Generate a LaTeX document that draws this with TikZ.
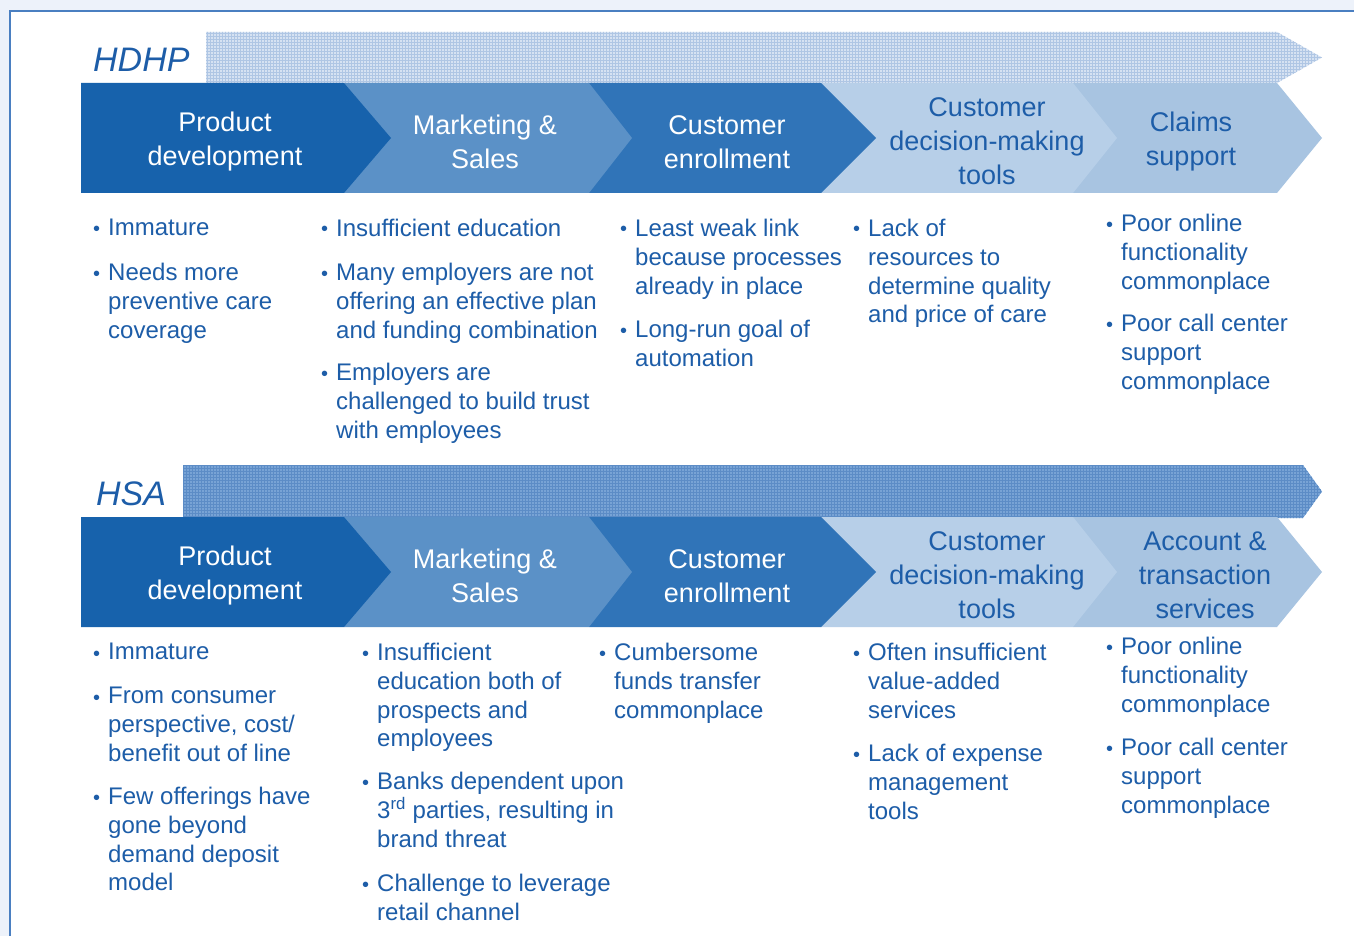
\documentclass[tikz,border=0pt]{standalone}
\usepackage{fontspec}
\setmainfont{Liberation Sans}
\usetikzlibrary{patterns}

\definecolor{pagebg}{HTML}{EDF2FA}
\definecolor{frameblue}{HTML}{4A7FC1}
\definecolor{inkblue}{HTML}{1D5DA8}
\definecolor{chevA}{HTML}{1762AC}
\definecolor{chevB}{HTML}{5B91C7}
\definecolor{chevC}{HTML}{3074B8}
\definecolor{chevD}{HTML}{B7CFE8}
\definecolor{chevE}{HTML}{A8C4E1}
\definecolor{bandlight}{HTML}{D6E2F2}
\definecolor{bandlightline}{HTML}{AFC6E4}
\definecolor{banddark}{HTML}{78A3D5}
\definecolor{banddarkline}{HTML}{5C8CC6}

\tikzset{
  steplabel/.style={align=center, inner sep=0pt, font=\fontsize{27}{34}\selectfont},
  darklabel/.style={steplabel, text=white},
  lightlabel/.style={steplabel, text=inkblue},
  bultext/.style={align=left, inner sep=0pt, anchor=north west, text=inkblue,
    font=\fontsize{24}{28.8}\selectfont},
  bulmark/.style={inner sep=0pt, anchor=base west, text=inkblue,
    font=\fontsize{20}{20}\selectfont},
  rowtitle/.style={inner sep=0pt, anchor=base west, text=inkblue,
    font=\fontsize{34}{34}\selectfont\itshape},
}

% chevron: #1 colour, #2 left x, #3 back x, #4 top y, #5 tip depth
\newcommand\chevron[5]{%
  \fill[#1] (#2,#4) -- (#3,#4) -- (#3+#5,#4+55) -- (#3,#4+110) -- (#2,#4+110) -- cycle;}

% bullet item: #1 name, #2 glyph x, #3 first line centre y, #4 text
\newcommand\bitem[4]{%
  \node[bultext] (#1) at (#2-1,#3-9) {#4};
  \node[bulmark] (#1-dot) at (#2-16,#3+8) {•};}

\begin{document}
\begin{tikzpicture}[x=1pt,y=-1pt]
\useasboundingbox (0,0) rectangle (1354,936);

% page and panel
\fill[pagebg] (0,0) rectangle (1354,936);
\fill[white] (10,11) rectangle (1354,936);
\draw[frameblue, line width=2pt] (10,936) -- (10,11) -- (1354,11);

% ---------------- HDHP ----------------
\path[fill=bandlight] (206,32) -- (1277,32) -- (1322,57.5) -- (1277,83) -- (206,83) -- cycle;
\path[pattern=grid, pattern color=bandlightline] (206,32) -- (1277,32) -- (1322,57.5) -- (1277,83) -- (206,83) -- cycle;
\node[rowtitle] (hdhp) at (93,72) {HDHP};

\chevron{chevE}{1073}{1277}{83}{45}
\chevron{chevD}{821}{1073}{83}{44}
\chevron{chevC}{589}{821}{83}{55}
\chevron{chevB}{344}{589}{83}{43}
\chevron{chevA}{81}{344}{83}{47}

\node[darklabel]  (h1) at (225,142) {Product\\development};
\node[darklabel]  (h2) at (485,142) {Marketing \&\\Sales};
\node[darklabel]  (h3) at (727,142) {Customer\\enrollment};
\node[lightlabel] (h4) at (987,141) {Customer\\decision-making\\tools};
\node[lightlabel] (h5) at (1191,142) {Claims\\support};

\bitem{h1a}{109}{228}{Immature}
\bitem{h1b}{109}{272}{Needs more\\preventive care\\coverage}
\bitem{h2a}{337}{228}{Insufficient education}
\bitem{h2b}{337}{272}{Many employers are not\\offering an effective plan\\and funding combination}
\bitem{h2c}{337}{372}{Employers are\\challenged to build trust\\with employees}
\bitem{h3a}{636}{228}{Least weak link\\because processes\\already in place}
\bitem{h3b}{636}{329}{Long-run goal of\\automation}
\bitem{h4a}{869}{228}{Lack of\\resources to\\determine quality\\and price of care}
\bitem{h5a}{1122}{223}{Poor online\\functionality\\commonplace}
\bitem{h5b}{1122}{323}{Poor call center\\support\\commonplace}

% ---------------- HSA ----------------
\path[fill=banddark] (183,465) -- (1303,465) -- (1322,491.5) -- (1303,518) -- (183,518) -- cycle;
\path[pattern=grid, pattern color=banddarkline] (183,465) -- (1303,465) -- (1322,491.5) -- (1303,518) -- (183,518) -- cycle;
\node[rowtitle] (hsa) at (96,505) {HSA};

\chevron{chevE}{1073}{1277}{517}{45}
\chevron{chevD}{821}{1073}{517}{44}
\chevron{chevC}{589}{821}{517}{55}
\chevron{chevB}{344}{589}{517}{43}
\chevron{chevA}{81}{344}{517}{47}

\node[darklabel]  (s1) at (225,576) {Product\\development};
\node[darklabel]  (s2) at (485,576) {Marketing \&\\Sales};
\node[darklabel]  (s3) at (727,576) {Customer\\enrollment};
\node[lightlabel] (s4) at (987,575) {Customer\\decision-making\\tools};
\node[lightlabel] (s5) at (1205,575) {Account \&\\transaction\\services};

\bitem{s1a}{109}{652}{Immature}
\bitem{s1b}{109}{696}{From consumer\\perspective, cost/\\benefit out of line}
\bitem{s1c}{109}{796}{Few offerings have\\gone beyond\\demand deposit\\model}
\bitem{s2a}{378}{652}{Insufficient\\education both of\\prospects and\\employees}
\bitem{s2b}{378}{781}{Banks dependent upon\\3\textsuperscript{rd} parties, resulting in\\brand threat}
\bitem{s2c}{378}{883}{Challenge to leverage\\retail channel}
\bitem{s3a}{615}{652}{Cumbersome\\funds transfer\\commonplace}
\bitem{s4a}{869}{652}{Often insufficient\\value-added\\services}
\bitem{s4b}{869}{753}{Lack of expense\\management\\tools}
\bitem{s5a}{1122}{646}{Poor online\\functionality\\commonplace}
\bitem{s5b}{1122}{747}{Poor call center\\support\\commonplace}
\end{tikzpicture}
\end{document}
